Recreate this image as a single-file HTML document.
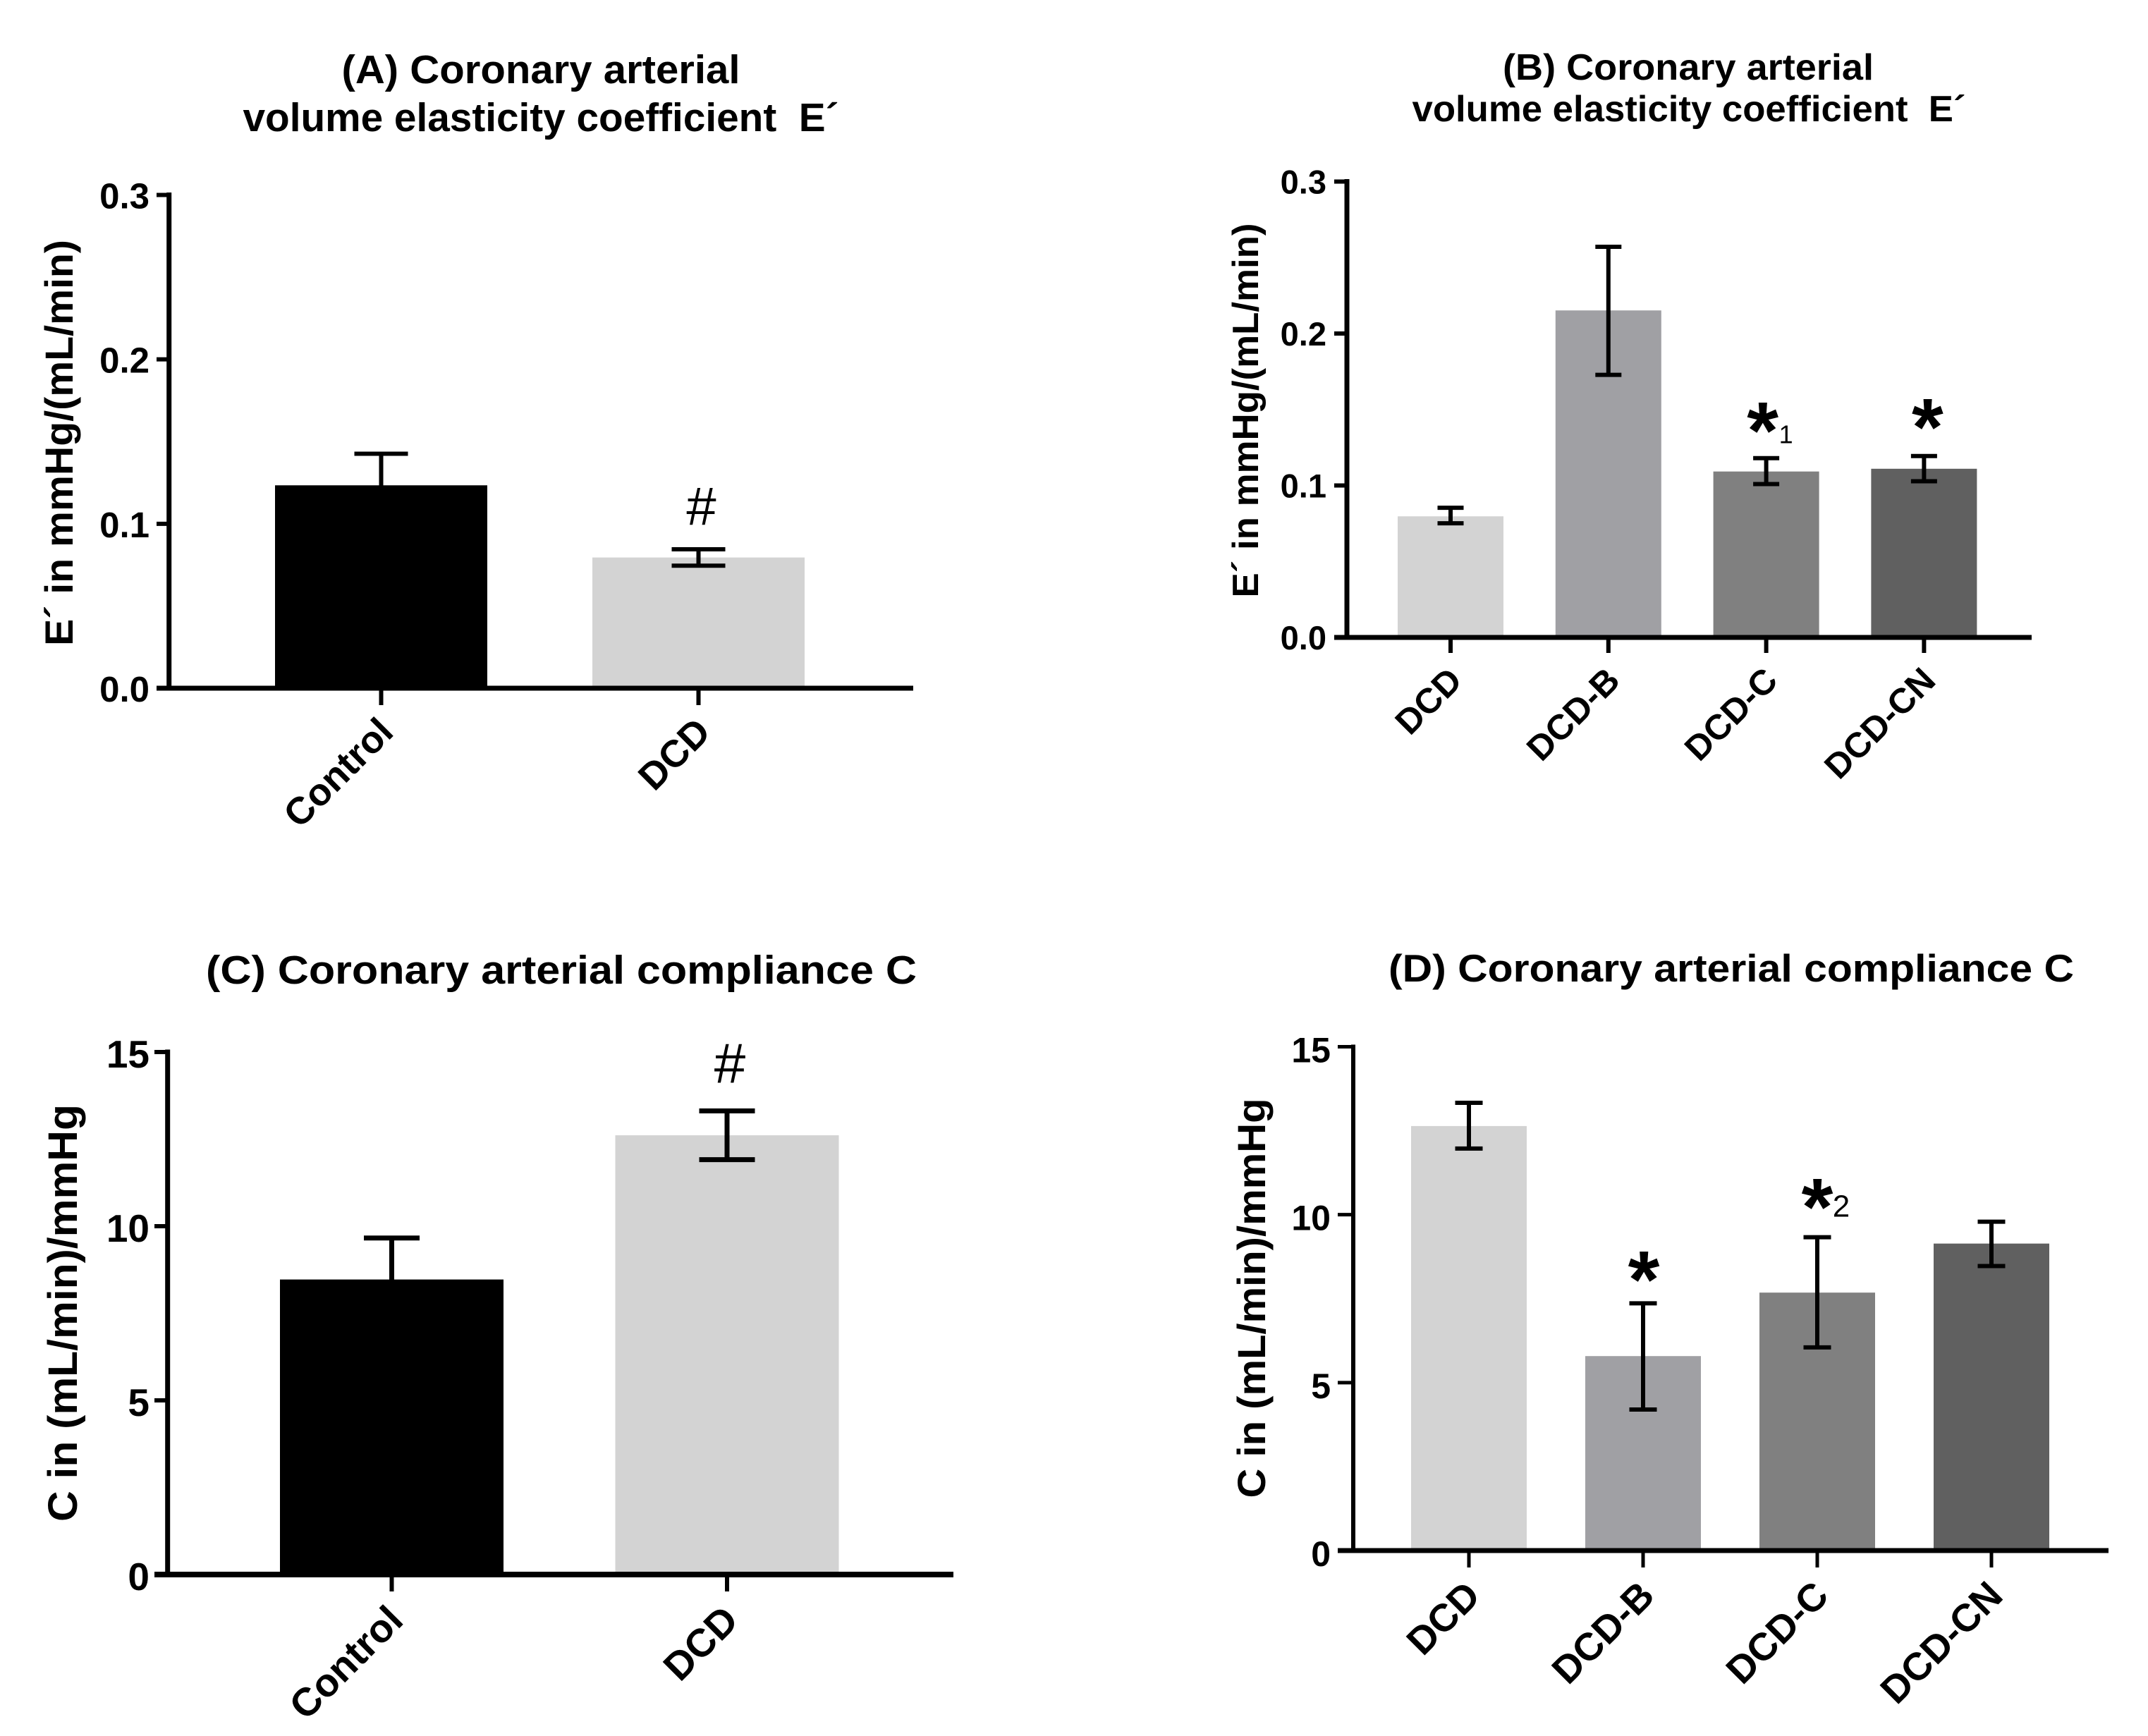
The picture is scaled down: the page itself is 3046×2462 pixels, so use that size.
<!DOCTYPE html>
<html lang="en">
<head>
<meta charset="utf-8">
<title>Coronary arterial elasticity and compliance</title>
<style>
html,body{margin:0;padding:0;background:#fff;}
svg{display:block;font-family:"Liberation Sans",Arial,sans-serif;}
text{fill:#000;}
</style>
</head>
<body>
<svg id="figure" xmlns="http://www.w3.org/2000/svg" width="3046" height="2462" viewBox="0 0 3046 2462"></svg>
<script>
// ---- Panel A data
const categoriesA = ['Control', 'DCD'];
const valuesA = [0.1234, 0.0795];
const errUpperA = [0.1426, 0.0845];
const errLowerA = [0.1042, 0.0745];
const ticksA = [0, 0.1, 0.2, 0.3];
const tickLabelsA = ['0.0', '0.1', '0.2', '0.3'];

// ---- Panel B data
const categoriesB = ['DCD', 'DCD-B', 'DCD-C', 'DCD-CN'];
const valuesB = [0.0797, 0.2152, 0.1092, 0.111];
const errUpperB = [0.0853, 0.2571, 0.118, 0.1194];
const errLowerB = [0.0751, 0.1728, 0.1009, 0.1028];
const ticksB = [0, 0.1, 0.2, 0.3];
const tickLabelsB = ['0.0', '0.1', '0.2', '0.3'];

// ---- Panel C data
const categoriesC = ['Control', 'DCD'];
const valuesC = [8.47, 12.61];
const errUpperC = [9.66, 13.31];
const errLowerC = [7.28, 11.91];
const ticksC = [0, 5, 10, 15];
const tickLabelsC = ['0', '5', '10', '15'];

// ---- Panel D data
const categoriesD = ['DCD', 'DCD-B', 'DCD-C', 'DCD-CN'];
const valuesD = [12.64, 5.79, 7.68, 9.14];
const errUpperD = [13.33, 7.36, 9.33, 9.79];
const errLowerD = [11.97, 4.2, 6.05, 8.47];
const ticksD = [0, 5, 10, 15];
const tickLabelsD = ['0', '5', '10', '15'];

const svg = document.getElementById('figure');
const NS = 'http://www.w3.org/2000/svg';

function node(parent, tag, attrs, name) {
  const el = document.createElementNS(NS, tag);
  for (const k in attrs) el.setAttribute(k, attrs[k]);
  
  
  parent.appendChild(el);
  return el;
}
function label(parent, str, attrs, name) {
  const el = node(parent, 'text', attrs, name);
  el.textContent = str;
  return el;
}
function line(parent, x1, y1, x2, y2, w, name) {
  return node(parent, 'line', {x1: x1, y1: y1, x2: x2, y2: y2, stroke: '#000', 'stroke-width': w}, name);
}

function drawPanel(p) {
  const g = node(svg, 'g', {}, p.id + '-chart');
  const yMax = p.ticks[p.ticks.length - 1];
  const yScale = v => p.y0 - (v / yMax) * (p.y0 - p.yTop);
  const xScale = i => p.x0Center + i * p.xStep;

  // title
  p.title.forEach((t, i) => {
    label(g, t.text, {x: t.x, y: t.y, 'text-anchor': 'middle', 'font-weight': 'bold', 'font-size': t.size, textLength: t.len, lengthAdjust: 'spacingAndGlyphs'}, p.id + '-title-line-' + (i + 1));
  });

  // y axis title
  label(g, p.yTitle.text, {transform: 'translate(' + p.yTitle.x + ',' + p.yTitle.y + ') rotate(-90)', 'text-anchor': 'middle', 'font-weight': 'bold', 'font-size': p.yTitle.size, textLength: p.yTitle.len, lengthAdjust: 'spacingAndGlyphs'}, p.id + '-y-axis-title');

  // bars
  p.values.forEach((v, i) => {
    const cx = xScale(i);
    node(g, 'rect', {x: cx - p.barW / 2, y: yScale(v), width: p.barW, height: p.y0 - yScale(v), fill: p.colors[i]}, p.id + '-bar-' + p.categories[i].toLowerCase());
  });

  // error bars
  p.values.forEach((v, i) => {
    const cx = xScale(i);
    const up = yScale(p.errUpper[i]);
    const lo = yScale(p.errLower[i]);
    const eg = node(g, 'g', {}, p.id + '-error-bar-' + p.categories[i].toLowerCase());
    line(eg, cx, up, cx, lo, p.errW, 'error-stem');
    line(eg, cx - p.capW / 2, up, cx + p.capW / 2, up, p.errW, 'error-cap-upper');
    line(eg, cx - p.capW / 2, lo, cx + p.capW / 2, lo, p.errW, 'error-cap-lower');
  });

  // axes
  line(g, p.xAxisLeft, p.yTop - p.axisW / 2, p.xAxisLeft, p.y0 + p.xAxisW / 2, p.axisW, p.id + '-y-axis');
  line(g, p.tickLeft, p.y0, p.xRight, p.y0, p.xAxisW, p.id + '-x-axis');

  // y ticks
  p.ticks.forEach((t, i) => {
    const y = yScale(t);
    if (t !== 0) line(g, p.tickLeft, y, p.xAxisLeft, y, p.axisW - 1, p.id + '-y-tick-' + p.tickLabels[i]);
    label(g, p.tickLabels[i], {x: p.tickTextRight, y: y + p.tickTextDy, 'text-anchor': 'end', 'font-weight': 'bold', 'font-size': p.tickSize}, p.id + '-y-tick-label-' + p.tickLabels[i]);
  });

  // x ticks + labels
  p.categories.forEach((c, i) => {
    const cx = xScale(i);
    line(g, cx, p.y0, cx, p.y0 + p.xTickLen, p.axisW - 1, p.id + '-x-tick-' + c.toLowerCase());
    label(g, c, {transform: 'translate(' + (cx + p.catDx) + ',' + (p.y0 + p.catDy) + ') rotate(-45)', 'text-anchor': 'end', 'font-weight': 'bold', 'font-size': p.catSize}, p.id + '-x-label-' + c.toLowerCase());
  });

  // significance marks
  p.marks.forEach(m => {
    const ax = xScale(m.bar) + m.dx;
    const ay = yScale(p.errUpper[m.bar]) - m.up;
    label(g, m.text, {x: ax, y: ay, 'text-anchor': 'middle', 'font-size': m.size, 'font-weight': m.weight}, p.id + '-significance-mark-' + p.categories[m.bar].toLowerCase());
    if (m.sub) {
      label(g, m.sub, {x: ax + m.subDx, y: ay + m.subDy, 'text-anchor': 'middle', 'font-size': m.subSize}, p.id + '-significance-subscript-' + m.sub);
    }
  });
}

drawPanel({
  id: 'panel-a', categories: categoriesA, values: valuesA, errUpper: errUpperA, errLower: errLowerA, ticks: ticksA, tickLabels: tickLabelsA,
  colors: ['#000000', '#d3d3d3'],
  title: [
    {text: '(A) Coronary arterial', x: 767, y: 118, size: 57, len: 565},
    {text: 'volume elasticity coefficient\u00a0\u00a0E\u00b4', x: 767, y: 186, size: 57, len: 845}
  ],
  yTitle: {text: 'E\u00b4 in mmHg/(mL/min)', x: 103, y: 628, size: 56, len: 576},
  x0Center: 540.5, xStep: 450, barW: 301, capW: 76, errW: 6,
  y0: 976, yTop: 276.5, xAxisLeft: 239.7, tickLeft: 222, xRight: 1295, axisW: 7, xAxisW: 7, xTickLen: 24,
  tickTextRight: 212, tickTextDy: 19, tickSize: 51,
  catDx: 20, catDy: 65, catSize: 54,
  marks: [{bar: 1, dx: 4, text: '#', up: 35, size: 76, weight: 'normal'}]
});

drawPanel({
  id: 'panel-b', categories: categoriesB, values: valuesB, errUpper: errUpperB, errLower: errLowerB, ticks: ticksB, tickLabels: tickLabelsB,
  colors: ['#d3d3d3', '#a0a0a4', '#808080', '#606060'],
  title: [
    {text: '(B) Coronary arterial', x: 2394, y: 113, size: 52, len: 526},
    {text: 'volume elasticity coefficient\u00a0\u00a0E\u00b4', x: 2395, y: 172, size: 52, len: 785}
  ],
  yTitle: {text: 'E\u00b4 in mmHg/(mL/min)', x: 1784, y: 582, size: 52, len: 531},
  x0Center: 2057, xStep: 223.8, barW: 150, capW: 37, errW: 6,
  y0: 904, yTop: 257.5, xAxisLeft: 1910, tickLeft: 1892, xRight: 2881, axisW: 7, xAxisW: 7, xTickLen: 22,
  tickTextRight: 1881, tickTextDy: 17, tickSize: 47,
  catDx: 19, catDy: 64, catSize: 50,
  marks: [
    {bar: 2, dx: -5, text: '*', up: -1, size: 115, weight: 'bold', sub: '1', subDx: 33, subDy: -22, subSize: 36},
    {bar: 3, dx: 5, text: '*', up: 1, size: 115, weight: 'bold'}
  ]
});

drawPanel({
  id: 'panel-c', categories: categoriesC, values: valuesC, errUpper: errUpperC, errLower: errLowerC, ticks: ticksC, tickLabels: tickLabelsC,
  colors: ['#000000', '#d3d3d3'],
  title: [
    {text: '(C) Coronary arterial compliance C', x: 796, y: 1395, size: 57, len: 1008}
  ],
  yTitle: {text: 'C in (mL/min)/mmHg', x: 109, y: 1862, size: 58, len: 592},
  x0Center: 555.5, xStep: 475.5, barW: 317, capW: 79, errW: 7,
  y0: 2233, yTop: 1492, xAxisLeft: 237.7, tickLeft: 219, xRight: 1352, axisW: 7, xAxisW: 8, xTickLen: 24,
  tickTextRight: 212, tickTextDy: 22, tickSize: 55,
  catDx: 19, catDy: 68, catSize: 56,
  marks: [{bar: 1, dx: 4, text: '#', up: 40, size: 80, weight: 'normal'}]
});

drawPanel({
  id: 'panel-d', categories: categoriesD, values: valuesD, errUpper: errUpperD, errLower: errLowerD, ticks: ticksD, tickLabels: tickLabelsD,
  colors: ['#d3d3d3', '#a0a0a4', '#808080', '#606060'],
  title: [
    {text: '(D) Coronary arterial compliance C', x: 2455, y: 1392, size: 55, len: 972}
  ],
  yTitle: {text: 'C in (mL/min)/mmHg', x: 1794, y: 1841, size: 56, len: 567},
  x0Center: 2083, xStep: 247, barW: 164, capW: 39, errW: 6,
  y0: 2199, yTop: 1484.5, xAxisLeft: 1919, tickLeft: 1897, xRight: 2990, axisW: 6, xAxisW: 7, xTickLen: 24,
  tickTextRight: 1887, tickTextDy: 22, tickSize: 50,
  catDx: 19, catDy: 67, catSize: 55,
  marks: [
    {bar: 1, dx: 1, text: '*', up: -6, size: 115, weight: 'bold'},
    {bar: 2, dx: 0, text: '*', up: 3, size: 115, weight: 'bold', sub: '2', subDx: 34, subDy: -26, subSize: 44}
  ]
});
</script>
</body>
</html>
